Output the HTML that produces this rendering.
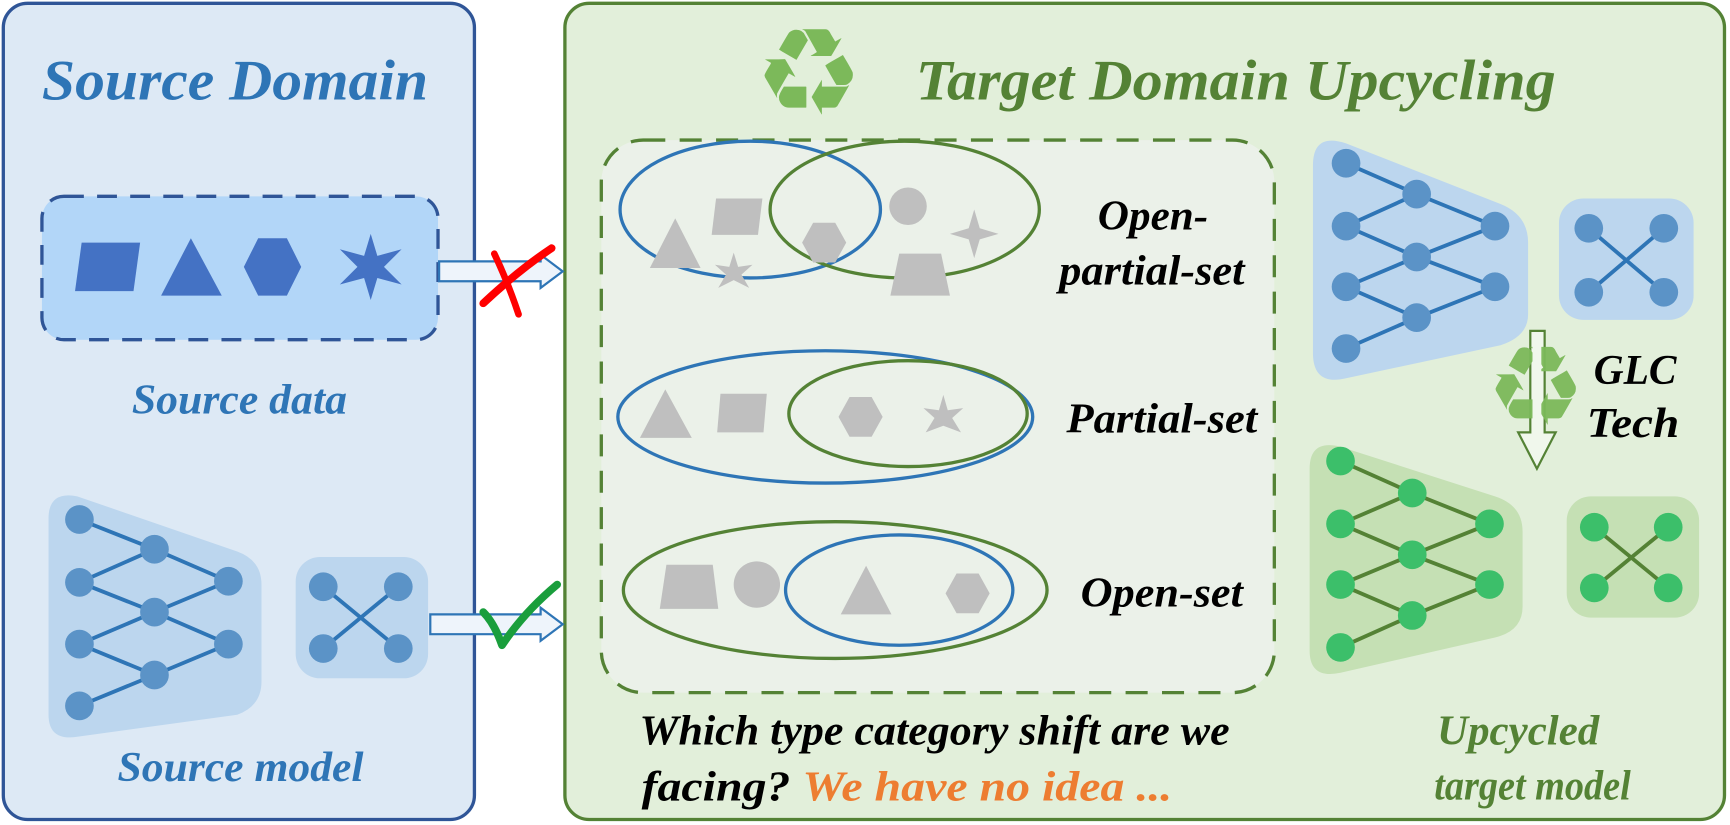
<!DOCTYPE html>
<html><head><meta charset="utf-8"><style>html,body{margin:0;padding:0;background:#fff}svg{display:block}</style></head>
<body>
<svg width="1730" height="825" viewBox="0 0 1568 748" preserveAspectRatio="none" xmlns="http://www.w3.org/2000/svg" font-family="'Liberation Serif', serif" font-weight="bold" font-style="italic">
<!-- Left panel -->
<rect x="3" y="3" width="427" height="740" rx="22" fill="#dde9f5" stroke="#2f5597" stroke-width="3"/>
<text x="213" y="90" font-size="52" fill="#2e75b6" text-anchor="middle" textLength="350" lengthAdjust="spacingAndGlyphs">Source Domain</text>
<rect x="38" y="178" width="359" height="130" rx="20" fill="#b2d6f8" stroke="#2f5597" stroke-width="3" stroke-dasharray="18,12"/>
<g fill="#4472c4">
<polygon points="74,220 127,220 121,264 68,264"/>
<polygon points="173,216 201,268 146,268"/>
<polygon points="234,216 260,216 273,242 260,268 234,268 221,242"/>
<polygon points="336,212 342,232 364,226 348,242 364,258 342,252 336,272 330,252 308,258 324,242 308,226 330,232"/>
</g>
<text x="217" y="375" font-size="38" fill="#2e75b6" text-anchor="middle" textLength="195" lengthAdjust="spacingAndGlyphs">Source data</text>
<!-- source network -->
<path d="M44,470 Q44,445 70,450 L215,500 Q237,508 237,530 L237,618 Q237,640 215,648 L70,668 Q44,672 44,648 Z" fill="#bcd6ee"/>
<g stroke="#2e75b6" stroke-width="3.5">
<line x1="72" y1="471" x2="140" y2="498"/><line x1="72" y1="528" x2="140" y2="498"/><line x1="72" y1="528" x2="140" y2="555"/><line x1="72" y1="584" x2="140" y2="555"/><line x1="72" y1="584" x2="140" y2="612"/><line x1="72" y1="640" x2="140" y2="612"/>
<line x1="140" y1="498" x2="207" y2="527"/><line x1="140" y1="555" x2="207" y2="527"/><line x1="140" y1="555" x2="207" y2="584"/><line x1="140" y1="612" x2="207" y2="584"/>
</g>
<g fill="#5b93c7">
<circle cx="72" cy="471" r="13"/><circle cx="72" cy="528" r="13"/><circle cx="72" cy="584" r="13"/><circle cx="72" cy="640" r="13"/>
<circle cx="140" cy="498" r="13"/><circle cx="140" cy="555" r="13"/><circle cx="140" cy="612" r="13"/>
<circle cx="207" cy="527" r="13"/><circle cx="207" cy="584" r="13"/>
</g>
<rect x="268" y="505" width="120" height="110" rx="22" fill="#bcd6ee"/>
<g stroke="#2e75b6" stroke-width="3.5"><line x1="293" y1="532" x2="361" y2="588"/><line x1="361" y1="532" x2="293" y2="588"/></g>
<g fill="#5b93c7"><circle cx="293" cy="532" r="13"/><circle cx="361" cy="532" r="13"/><circle cx="293" cy="588" r="13"/><circle cx="361" cy="588" r="13"/></g>
<text x="218" y="708" font-size="38" fill="#2e75b6" text-anchor="middle" textLength="223" lengthAdjust="spacingAndGlyphs">Source model</text>
<!-- Right panel -->
<rect x="512" y="3" width="1051" height="740" rx="22" fill="#e2efda" stroke="#548235" stroke-width="3"/>
<text x="733" y="104" font-size="110" fill="#7cb95a" text-anchor="middle" font-family="'DejaVu Sans', sans-serif" font-style="normal" font-weight="normal">♻</text>
<text x="1120" y="90" font-size="52" fill="#548235" text-anchor="middle" textLength="580" lengthAdjust="spacingAndGlyphs">Target Domain Upcycling</text>
<!-- arrows -->
<g fill="#eef4fb" stroke="#2e75b6" stroke-width="2">
<polygon points="398,237 490,237 490,231 510,246 490,261 490,255 398,255"/>
<polygon points="390,557 490,557 490,551 510,566 490,581 490,575 390,575"/>
</g>
<path d="M438,275 Q470,245 500,225" stroke="#ff0000" stroke-width="7" fill="none" stroke-linecap="round"/>
<path d="M448,230 Q460,255 470,285" stroke="#ff0000" stroke-width="6" fill="none" stroke-linecap="round"/>
<path d="M438,555 Q448,565 455,585 Q475,555 505,530" stroke="#1a9e3c" stroke-width="7" fill="none" stroke-linecap="round" stroke-linejoin="round"/>
<!-- dashed box -->
<rect x="545" y="127" width="610" height="501" rx="38" fill="#ebf1e9" stroke="#548235" stroke-width="3" stroke-dasharray="20,13"/>
<!-- Row 1 -->
<ellipse cx="680" cy="190" rx="118" ry="62" fill="none" stroke="#2e75b6" stroke-width="3"/>
<ellipse cx="820" cy="190" rx="122" ry="62" fill="none" stroke="#548235" stroke-width="3"/>
<g fill="#bfbfbf">
<polygon points="612,198 635,243 589,243"/>
<polygon points="649,180 691,180 687,213 645,213"/>
<polygon points="665,229 669,242 682,240 672,249 679,261 665,254 651,261 658,249 648,240 661,242"/>
<polygon points="737,202 757,202 767,220 757,238 737,238 727,220"/>
<circle cx="823" cy="187" r="17"/>
<polygon points="883,190 888,207 905,212 888,217 883,234 878,217 861,212 878,207"/>
<polygon points="815,230 853,230 861,268 807,268"/>
</g>
<text x="1045" y="208" font-size="38" fill="#000" text-anchor="middle" textLength="100" lengthAdjust="spacingAndGlyphs">Open-</text>
<text x="1044" y="258" font-size="38" fill="#000" text-anchor="middle" textLength="168" lengthAdjust="spacingAndGlyphs">partial-set</text>
<!-- Row 2 -->
<ellipse cx="748" cy="378" rx="188" ry="60" fill="none" stroke="#2e75b6" stroke-width="3"/>
<ellipse cx="823" cy="375" rx="108" ry="48" fill="none" stroke="#548235" stroke-width="3"/>
<g fill="#bfbfbf">
<polygon points="603,353 627,397 580,397"/>
<polygon points="653,357 695,357 692,392 650,392"/>
<polygon points="770,360 790,360 800,378 790,396 770,396 760,378"/>
<polygon points="855,358 859,372 873,370 863,379 871,392 855,386 839,392 847,379 837,370 851,372"/>
</g>
<text x="1053" y="392" font-size="38" fill="#000" text-anchor="middle" textLength="173" lengthAdjust="spacingAndGlyphs">Partial-set</text>
<!-- Row 3 -->
<ellipse cx="757" cy="535" rx="192" ry="62" fill="none" stroke="#548235" stroke-width="3"/>
<ellipse cx="815" cy="535" rx="103" ry="50" fill="none" stroke="#2e75b6" stroke-width="3"/>
<g fill="#bfbfbf">
<polygon points="604,512 646,512 651,552 598,552"/>
<circle cx="686" cy="530" r="21"/>
<polygon points="785,513 808,557 762,557"/>
<polygon points="867,520 887,520 897,538 887,556 867,556 857,538"/>
</g>
<text x="1053" y="550" font-size="38" fill="#000" text-anchor="middle" textLength="147" lengthAdjust="spacingAndGlyphs">Open-set</text>
<!-- bottom text -->
<text x="847" y="675" font-size="38" fill="#000" text-anchor="middle" textLength="535" lengthAdjust="spacingAndGlyphs">Which type category shift are we</text>
<text x="822" y="726" font-size="38" fill="#000" text-anchor="middle" textLength="481" lengthAdjust="spacingAndGlyphs">facing? <tspan fill="#ed7d31">We have no idea ...</tspan></text>
<!-- Right blue network -->
<path d="M1190,150 Q1190,120 1220,130 L1360,185 Q1385,195 1385,220 L1385,285 Q1385,305 1360,313 L1220,343 Q1190,350 1190,320 Z" fill="#bcd6ee"/>
<g stroke="#2e75b6" stroke-width="3.5">
<line x1="1220" y1="148" x2="1284" y2="176"/><line x1="1220" y1="205" x2="1284" y2="176"/><line x1="1220" y1="205" x2="1284" y2="233"/><line x1="1220" y1="260" x2="1284" y2="233"/><line x1="1220" y1="260" x2="1284" y2="288"/><line x1="1220" y1="316" x2="1284" y2="288"/>
<line x1="1284" y1="176" x2="1355" y2="205"/><line x1="1284" y1="233" x2="1355" y2="205"/><line x1="1284" y1="233" x2="1355" y2="260"/><line x1="1284" y1="288" x2="1355" y2="260"/>
</g>
<g fill="#5b93c7">
<circle cx="1220" cy="148" r="13"/><circle cx="1220" cy="205" r="13"/><circle cx="1220" cy="260" r="13"/><circle cx="1220" cy="316" r="13"/>
<circle cx="1284" cy="176" r="13"/><circle cx="1284" cy="233" r="13"/><circle cx="1284" cy="288" r="13"/>
<circle cx="1355" cy="205" r="13"/><circle cx="1355" cy="260" r="13"/>
</g>
<rect x="1413" y="180" width="122" height="110" rx="22" fill="#bcd6ee"/>
<g stroke="#2e75b6" stroke-width="3.5"><line x1="1440" y1="207" x2="1508" y2="265"/><line x1="1508" y1="207" x2="1440" y2="265"/></g>
<g fill="#5b93c7"><circle cx="1440" cy="207" r="13"/><circle cx="1508" cy="207" r="13"/><circle cx="1440" cy="265" r="13"/><circle cx="1508" cy="265" r="13"/></g>
<!-- GLC arrow -->
<polygon points="1387,300 1400,300 1400,392 1410,392 1393,425 1376,392 1387,392" fill="#f0f7ec" stroke="#548235" stroke-width="2"/>
<text x="1392" y="385" font-size="100" fill="#7cb95a" text-anchor="middle" font-family="'DejaVu Sans', sans-serif" font-style="normal" font-weight="normal" opacity="0.95">♻</text>
<line x1="1393" y1="305" x2="1393" y2="395" stroke="#f0f7ec" stroke-width="8"/>
<text x="1482" y="348" font-size="38" fill="#000" text-anchor="middle" textLength="75" lengthAdjust="spacingAndGlyphs">GLC</text>
<text x="1480" y="396" font-size="38" fill="#000" text-anchor="middle" textLength="84" lengthAdjust="spacingAndGlyphs">Tech</text>
<!-- Green network -->
<path d="M1187,425 Q1187,398 1215,405 L1355,450 Q1380,458 1380,482 L1380,550 Q1380,572 1355,578 L1215,610 Q1187,616 1187,590 Z" fill="#c5e0b4"/>
<g stroke="#548235" stroke-width="3.5">
<line x1="1215" y1="418" x2="1280" y2="447"/><line x1="1215" y1="475" x2="1280" y2="447"/><line x1="1215" y1="475" x2="1280" y2="503"/><line x1="1215" y1="530" x2="1280" y2="503"/><line x1="1215" y1="530" x2="1280" y2="558"/><line x1="1215" y1="587" x2="1280" y2="558"/>
<line x1="1280" y1="447" x2="1350" y2="475"/><line x1="1280" y1="503" x2="1350" y2="475"/><line x1="1280" y1="503" x2="1350" y2="530"/><line x1="1280" y1="558" x2="1350" y2="530"/>
</g>
<g fill="#3cbf6a">
<circle cx="1215" cy="418" r="13"/><circle cx="1215" cy="475" r="13"/><circle cx="1215" cy="530" r="13"/><circle cx="1215" cy="587" r="13"/>
<circle cx="1280" cy="447" r="13"/><circle cx="1280" cy="503" r="13"/><circle cx="1280" cy="558" r="13"/>
<circle cx="1350" cy="475" r="13"/><circle cx="1350" cy="530" r="13"/>
</g>
<rect x="1420" y="450" width="120" height="110" rx="22" fill="#c5e0b4"/>
<g stroke="#548235" stroke-width="3.5"><line x1="1445" y1="478" x2="1512" y2="533"/><line x1="1512" y1="478" x2="1445" y2="533"/></g>
<g fill="#3cbf6a"><circle cx="1445" cy="478" r="13"/><circle cx="1512" cy="478" r="13"/><circle cx="1445" cy="533" r="13"/><circle cx="1512" cy="533" r="13"/></g>
<text x="1376" y="675" font-size="38" fill="#548235" text-anchor="middle" textLength="147" lengthAdjust="spacingAndGlyphs">Upcycled</text>
<text x="1389" y="725" font-size="38" fill="#548235" text-anchor="middle" textLength="178" lengthAdjust="spacingAndGlyphs">target model</text>
</svg>
</body></html>
